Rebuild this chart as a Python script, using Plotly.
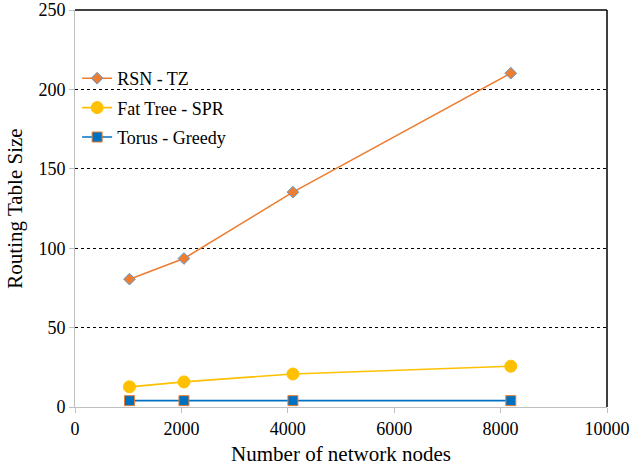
import plotly.graph_objects as go

nodes = [1024, 2048, 4096, 8192]
rsn_tz = [80.5, 93.5, 135.3, 210.2]
fat_tree_spr = [12.7, 15.8, 20.8, 25.7]
torus_greedy = [4, 4, 4, 4]

FAM = "Liberation Serif"

fig = go.Figure()
fig.add_trace(go.Scatter(
    x=nodes, y=rsn_tz, name="RSN - TZ", mode="lines+markers", legendgroup="a",
    line=dict(color="#ED7D31", width=1.6),
    marker=dict(symbol="diamond", size=9, color="#ED7D31",
                line=dict(color="#5B9BD5", width=1))))
fig.add_trace(go.Scatter(
    x=nodes, y=fat_tree_spr, name="Fat Tree - SPR", mode="lines+markers", legendgroup="b",
    line=dict(color="#FFC000", width=1.6),
    marker=dict(symbol="circle", size=12, color="#FFC000",
                line=dict(color="#FFC000", width=1))))
fig.add_trace(go.Scatter(
    x=nodes, y=torus_greedy, name="Torus - Greedy", mode="lines+markers", legendgroup="c",
    line=dict(color="#0070C0", width=1.6),
    marker=dict(symbol="square", size=10, color="#0070C0",
                line=dict(color="#ED7D31", width=1))))

fig.update_layout(
    template="none",
    width=641, height=467,
    margin=dict(l=75, r=34, t=10, b=60, autoexpand=False),
    paper_bgcolor="white", plot_bgcolor="white",
    font=dict(family=FAM, size=18, color="black"),
    showlegend=True,
    legend=dict(x=0.004, y=0.874, xanchor="left", yanchor="top",
                bgcolor="rgba(0,0,0,0)", font=dict(family=FAM, size=18, color="black"),
                itemwidth=30, traceorder="grouped", tracegroupgap=3),
    xaxis=dict(range=[0, 10000], dtick=2000, tickformat="d", showgrid=False,
               showline=True, linecolor="#BFBFBF", linewidth=1,
               ticks="outside", tickcolor="#BFBFBF", ticklen=5,
               tickfont=dict(family=FAM, size=18, color="black"),
               zeroline=False, automargin=False,
               title=dict(text="Number of network nodes",
                          font=dict(family=FAM, size=21, color="black"), standoff=8)),
    yaxis=dict(range=[0, 250], dtick=50, showgrid=True,
               gridcolor="black", griddash="dot", gridwidth=1,
               showline=True, linecolor="#BFBFBF", linewidth=1,
               ticks="outside", tickcolor="#BFBFBF", ticklen=5,
               tickfont=dict(family=FAM, size=18, color="black"),
               zeroline=False, automargin=False,
               title=dict(text="Routing Table Size",
                          font=dict(family=FAM, size=21, color="black"), standoff=10)),
    shapes=[
        dict(type="line", xref="paper", yref="paper", x0=0, x1=1, y0=1, y1=1,
             line=dict(color="black", width=1.5)),
        dict(type="line", xref="paper", yref="paper", x0=1, x1=1, y0=0, y1=1,
             line=dict(color="black", width=1.5)),
    ],
)

fig.write_html("out.html", config={"displayModeBar": False},
               post_script="document.body.style.margin='0';document.body.style.overflow='hidden';")
